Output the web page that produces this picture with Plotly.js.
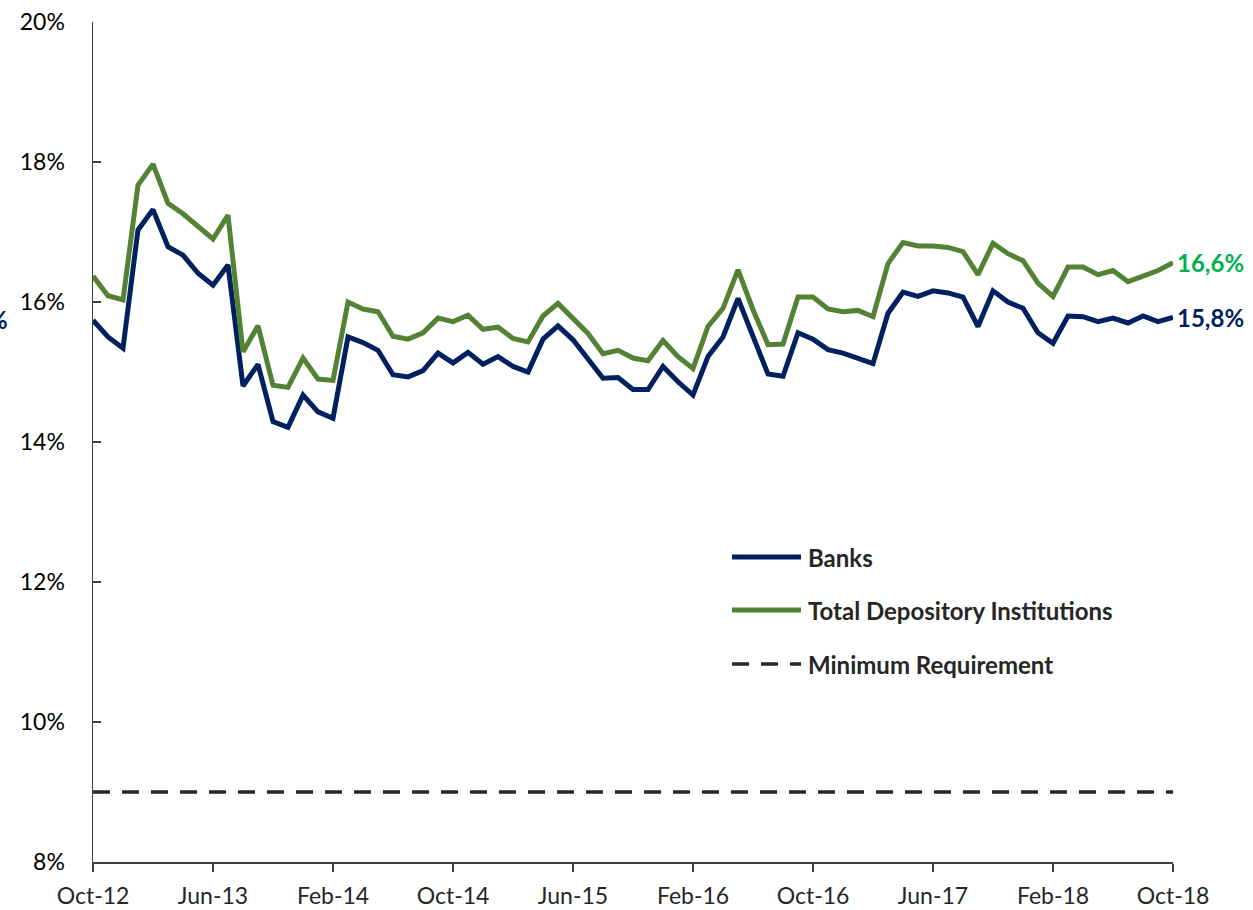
<!DOCTYPE html>
<html>
<head>
<meta charset="utf-8">
<script src="https://cdn.plot.ly/plotly-3.0.1.min.js"></script>
<style>html,body{margin:0;padding:0;background:#fff;}#chart{width:1253px;height:910px;}</style>
</head>
<body>
<div id="chart"></div>
<script>
// Monthly observations, Oct-12 .. Oct-18 (73 months), values in %
const tickLabels = ["Oct-12","Jun-13","Feb-14","Oct-14","Jun-15","Feb-16","Oct-16","Jun-17","Feb-18","Oct-18"];
const banks = [15.74,15.50,15.34,17.03,17.32,16.79,16.67,16.41,16.24,16.53,
  14.80,15.11,14.29,14.21,14.67,14.43,14.34,15.50,15.42,15.31,
  14.96,14.93,15.02,15.27,15.13,15.28,15.11,15.22,15.08,15.00,
  15.47,15.66,15.46,15.18,14.91,14.92,14.75,14.75,15.08,14.86,
  14.67,15.22,15.50,16.05,15.51,14.97,14.94,15.56,15.47,15.32,
  15.27,15.20,15.12,15.84,16.14,16.08,16.16,16.13,16.07,15.65,
  16.16,16.00,15.91,15.56,15.41,15.80,15.79,15.72,15.77,15.70,
  15.80,15.72,15.78];
const totalDepository = [16.37,16.09,16.03,17.67,17.97,17.41,17.26,17.07,16.90,17.24,
  15.29,15.66,14.81,14.78,15.20,14.90,14.88,16.00,15.90,15.86,
  15.51,15.47,15.56,15.77,15.72,15.81,15.61,15.64,15.48,15.43,
  15.80,15.98,15.77,15.55,15.26,15.31,15.20,15.16,15.45,15.22,
  15.05,15.65,15.91,16.46,15.89,15.39,15.40,16.07,16.07,15.90,
  15.86,15.88,15.79,16.55,16.85,16.80,16.80,16.78,16.72,16.39,
  16.84,16.69,16.59,16.27,16.08,16.50,16.50,16.39,16.45,16.29,
  16.37,16.45,16.56];
const minimumRequirement = [9.0, 9.0];
const endLabels = ["15,8%", "16,6%"];
const seriesNames = ["Banks", "Total Depository Institutions", "Minimum Requirement"];

const monthIdx = banks.map((_, i) => i);
const lastIdx = monthIdx.length - 1;
const tickVals = tickLabels.map((_, i) => i * 8);

const FONT = "Lato, 'Open Sans', sans-serif";
const NAVY = "#002060", GREEN = "#548235", DASH = "#262626";

const traces = [
  {x: monthIdx, y: banks, type: "scatter", mode: "lines", name: seriesNames[0],
   line: {color: NAVY, width: 5}},
  {x: monthIdx, y: totalDepository, type: "scatter", mode: "lines", name: seriesNames[1],
   line: {color: GREEN, width: 5}},
  {x: [0, lastIdx], y: minimumRequirement, type: "scatter", mode: "lines", name: seriesNames[2],
   line: {color: DASH, width: 3.5, dash: "17px,12px"}}
];

// manual legend (paper coords)
const legendRows = [
  {y: 557, color: NAVY, dash: "solid", w: 5},
  {y: 610, color: GREEN, dash: "solid", w: 5},
  {y: 664, color: DASH, dash: "17px,12px", w: 3.5}
];
const L = 93, T = 22, PW = 1080, PH = 840;
const px = v => (v - L) / PW;
const py = v => 1 - (v - T) / PH;

const shapes = legendRows.map(r => ({
  type: "line", xref: "paper", yref: "paper",
  x0: px(732), x1: px(801), y0: py(r.y), y1: py(r.y),
  line: {color: r.color, width: r.w, dash: r.dash}
}));

const annotations = legendRows.map((r, i) => ({
  xref: "paper", yref: "paper", x: px(806), y: py(r.y), xanchor: "left", yanchor: "middle",
  text: "<b>" + seriesNames[i] + "</b>", showarrow: false,
  font: {family: FONT, size: 24, color: "#262626"}
}));
annotations.push({
  x: lastIdx, y: banks[lastIdx], xref: "x", yref: "y", xanchor: "left", yanchor: "middle",
  xshift: 2, text: "<b>" + endLabels[0] + "</b>", showarrow: false,
  font: {family: FONT, size: 24, color: NAVY}
});
annotations.push({
  x: lastIdx, y: totalDepository[lastIdx], xref: "x", yref: "y", xanchor: "left", yanchor: "middle",
  xshift: 2, text: "<b>" + endLabels[1] + "</b>", showarrow: false,
  font: {family: FONT, size: 24, color: "#00B050"}
});
annotations.push({
  xref: "paper", yref: "y", x: px(10), y: 15.75, xanchor: "right", yanchor: "middle",
  text: "<b>%</b>", showarrow: false, font: {family: FONT, size: 24, color: NAVY}
});

const layout = {
  width: 1253, height: 910,
  margin: {l: L, r: 1253 - L - PW, t: T, b: 910 - T - PH, pad: 0},
  paper_bgcolor: "#fff", plot_bgcolor: "#fff",
  showlegend: false,
  font: {family: FONT, size: 23, color: "#262626"},
  xaxis: {
    range: [0, lastIdx], tickmode: "array", tickvals: tickVals, ticktext: tickLabels,
    showgrid: false, zeroline: false, showline: true, linecolor: "#404040", linewidth: 1.5,
    ticks: "outside", ticklen: 8, tickwidth: 1.5, tickcolor: "#404040",
    ticklabelstandoff: 5,
    tickfont: {family: FONT, size: 23, color: "#262626"}
  },
  yaxis: {
    range: [8, 20], tickmode: "array", tickvals: [8,10,12,14,16,18,20],
    ticktext: ["8%","10%","12%","14%","16%","18%","20%"],
    showgrid: false, zeroline: false, showline: true, linecolor: "#404040", linewidth: 1.5,
    ticks: "inside", ticklen: 8, tickwidth: 1.5, tickcolor: "#404040",
    ticklabelstandoff: 22,
    tickfont: {family: FONT, size: 23, color: "#000"}
  },
  shapes: shapes,
  annotations: annotations
};

Plotly.newPlot("chart", traces, layout, {displayModeBar: false, staticPlot: true});
</script>
</body>
</html>
